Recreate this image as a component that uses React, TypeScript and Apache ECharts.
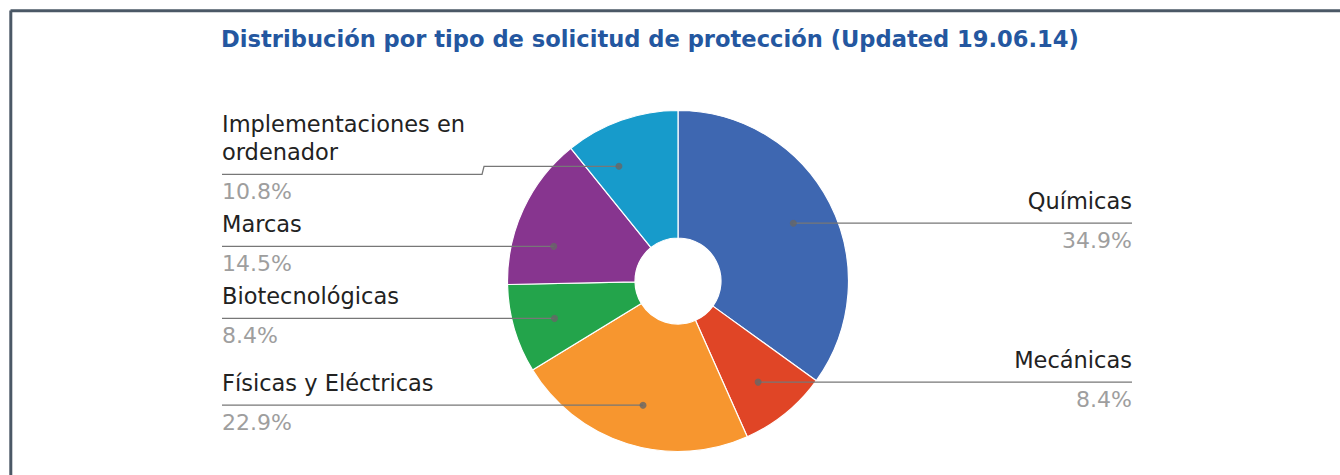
import React, { useEffect, useRef } from 'react';
import * as echarts from 'echarts';

const TITLE = 'Distribución por tipo de solicitud de protección (Updated 19.06.14)';
const categories = [
  'Químicas',
  'Mecánicas',
  'Físicas y Eléctricas',
  'Biotecnológicas',
  'Marcas',
  'Implementaciones en\nordenador',
];
const values = [34.9, 8.4, 22.9, 8.4, 14.5, 10.8];
const colors = ['#3e67b1', '#e04526', '#f7962f', '#23a44b', '#87358f', '#179bcb'];

const W = 1340;
const H = 475;
const CX = 678;
const CY = 281;
const R_OUT = 170.5;
const R_IN = 43;
const R_DOT = 129;
const BOX_LEFT = 212;
const BOX_WIDTH = 930;
const EDGE = 10;
const NAME_LH = 28;
const GAP_LH = 8;
const PER_LH = 34;
const NAME_FS = 22.5;
const PER_FS = 22;
const LABEL_FONT = 'DejaVu Sans';
const ANCHOR_FREEDOM = 0.2;

export default function App() {
  const ref = useRef<HTMLDivElement>(null);

  useEffect(() => {
    if (!ref.current) return;
    const chart = echarts.init(ref.current, undefined, { renderer: 'svg' });

    const total = values.reduce((a, b) => a + b, 0);
    const starts: number[] = [];
    let acc = 0;
    values.forEach((v) => {
      starts.push(acc);
      acc += v;
    });
    const mids = values.map((v, i) => ((starts[i] + v / 2) / total) * 100);
    const anchorPct = mids.slice();

    const pieData = categories.map((name, i) => ({
      name,
      value: values[i],
      itemStyle: { color: colors[i] },
    }));

    const TAU = Math.PI * 2;

    const labelLayout = (p: any) => {
      const r = p.labelRect;
      const i = p.dataIndex;
      if (!r) return {};
      const isLeft = r.x + r.width / 2 < CX;
      // the label box wraps the full line boxes; the percent row is the last one
      const lineY = r.y + r.height - PER_LH;
      const c = Math.max(-1, Math.min(1, (CY - lineY) / R_DOT));
      const base = Math.acos(c);
      let theta = isLeft ? TAU - base : base;
      const start = (starts[i] / total) * TAU;
      const span = (values[i] / total) * TAU;
      const mid = start + span / 2;
      theta = Math.max(mid - ANCHOR_FREEDOM * span, Math.min(mid + ANCHOR_FREEDOM * span, theta));
      anchorPct[i] = (theta / TAU) * 100;
      const ax = CX + R_DOT * Math.sin(theta);
      const ay = CY - R_DOT * Math.cos(theta);
      const xEnd = isLeft ? r.x : r.x + r.width;
      const xNear = isLeft ? r.x + r.width : r.x;
      let pts: number[][];
      if (Math.abs(ay - lineY) < 1.5) {
        pts = [
          [xEnd, lineY],
          [ax, lineY],
        ];
      } else {
        const jx = xNear + (isLeft ? 17 : -17);
        pts = [
          [xEnd, lineY],
          [jx, lineY],
          [jx + (isLeft ? 2 : -2), ay],
          [ax, ay],
        ];
      }
      return { labelLinePoints: pts };
    };

    const buildOption = (): any => ({
      animation: false,
      backgroundColor: '#ffffff',
      title: {
        text: TITLE,
        left: 645,
        top: 22,
        textAlign: 'center',
        textStyle: {
          fontFamily: 'DejaVu Sans',
          fontWeight: 'bold',
          fontSize: 22.6,
          color: '#2457a0',
        },
      },
      graphic: [
        {
          type: 'line',
          shape: { x1: 10.5, y1: 10.8, x2: W, y2: 10.8 },
          style: { stroke: '#4b5866', lineWidth: 3 },
          silent: true,
        },
        {
          type: 'line',
          shape: { x1: 10.8, y1: 10.5, x2: 10.8, y2: H },
          style: { stroke: '#4b5866', lineWidth: 3 },
          silent: true,
        },
      ],
      polar: { center: [CX, CY], radius: R_OUT },
      angleAxis: {
        type: 'value',
        min: 0,
        max: 100,
        startAngle: 90,
        clockwise: true,
        show: false,
      },
      radiusAxis: { type: 'value', min: 0, max: R_OUT, show: false },
      series: [
        {
          type: 'pie',
          left: BOX_LEFT,
          top: 0,
          width: BOX_WIDTH,
          height: H,
          center: [CX - BOX_LEFT, CY],
          radius: [R_IN, R_OUT],
          startAngle: 90,
          clockwise: true,
          silent: true,
          z: 2,
          label: { show: false },
          labelLine: { show: false },
          itemStyle: { borderColor: '#ffffff', borderWidth: 1.2 },
          data: pieData,
        },
        {
          type: 'pie',
          left: BOX_LEFT,
          top: 0,
          width: BOX_WIDTH,
          height: H,
          center: [CX - BOX_LEFT, CY],
          radius: [0, R_DOT],
          startAngle: 90,
          clockwise: true,
          silent: true,
          z: 4,
          avoidLabelOverlap: true,
          itemStyle: { color: 'rgba(0,0,0,0)', borderWidth: 0 },
          label: {
            show: true,
            position: 'outside',
            alignTo: 'edge',
            edgeDistance: EDGE,
            distanceToLabelLine: 0,
            backgroundColor: 'rgba(255,255,255,0)',
            padding: 0,
            formatter: (p: any) => {
              const lines = String(p.name).split('\n');
              return (
                lines.map((l) => `{name|${l}}`).join('\n') +
                `\n{gap| }\n{per|${Number(p.value).toFixed(1)}%}`
              );
            },
            rich: {
              name: {
                fontFamily: LABEL_FONT,
                fontSize: NAME_FS,
                lineHeight: NAME_LH,
                color: '#222222',
              },
              gap: { fontSize: 1, lineHeight: GAP_LH, height: GAP_LH },
              per: {
                fontFamily: LABEL_FONT,
                fontSize: PER_FS,
                lineHeight: PER_LH,
                color: '#9e9e9e',
              },
            },
          },
          labelLine: {
            show: true,
            showAbove: true,
            length: 0,
            length2: 10,
            lineStyle: { color: '#777777', width: 1.3 },
          },
          labelLayout,
          data: pieData.map((d) => ({ name: d.name, value: d.value })),
        },
        {
          type: 'scatter',
          coordinateSystem: 'polar',
          silent: true,
          symbol: 'circle',
          symbolSize: 7,
          itemStyle: { color: '#666666' },
          data: anchorPct.map((a) => [R_DOT, a]),
          z: 6,
        },
      ],
    });

    chart.setOption(buildOption());
    // second pass: place the dots where the label layout anchored the lines
    chart.setOption(buildOption());
    return () => chart.dispose();
  }, []);

  return (
    <div
      ref={ref}
      style={{ position: 'absolute', left: 0, top: 0, width: W, height: H }}
    />
  );
}
